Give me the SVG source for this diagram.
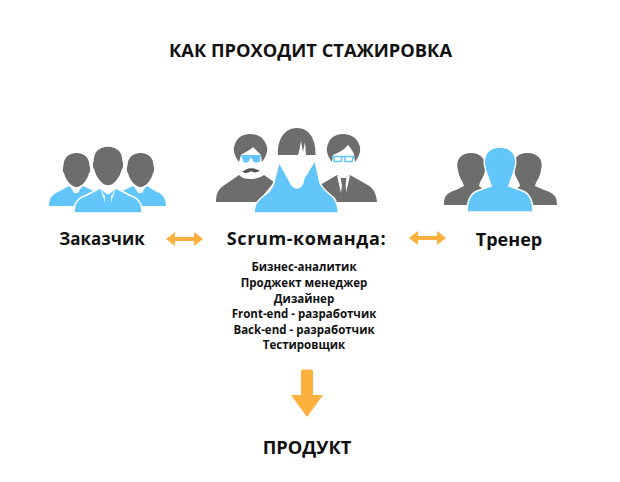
<svg xmlns="http://www.w3.org/2000/svg" width="620" height="482" viewBox="0 0 620 482">
<style>
text{font-family:"Open Sans","Liberation Sans",sans-serif;font-weight:700;fill:#111;text-anchor:middle}
.t{font-size:18.300px}.n{font-size:17px}.l{font-size:11.500px}
.g{fill:#6d6d6d}.b{fill:#62c6fb}.w{fill:#fff}.o{fill:#fdb03e}
.s{stroke:#fff;stroke-width:1.500}
</style>
<defs>
<path id="head" d="M0-17C8-17 13-12 13-4C14-3 14 2 12.500 3C11 10 5 17 0 17C-5 17-11 10-12.500 3C-14 2-14-3-13-4C-13-12-8-17 0-17Z"/>
</defs>
<rect width="620" height="482" fill="#fff"/>
<text class="t" x="310.500" y="57">КАК ПРОХОДИТ СТАЖИРОВКА</text>

<g id="customer">
<path class="b" d="M49 206C49 197 53 194 60 191L69 186L76 192L83 186L96 192L90 206Z"/>
<path class="b" d="M166 206C166 197 162 194 155 191L147 186L140 192L133 186L120 192L126 206Z"/>
<path class="w" d="M70 186L74 193H78L82 186Z"/>
<path class="b" d="M73.500 193H78.500L76 203Z"/>
<path class="w" d="M134 186L138 193H142L146 186Z"/>
<path class="b" d="M137.500 193H142.500L140 203Z"/>
<use href="#head" class="g" x="76.500" y="170"/>
<use href="#head" class="g" x="140.500" y="170"/>
<path class="b s" d="M74 213C74 202 78 198 87 195L100 188L108 194L116 188L129 195C138 198 142 202 142 213Z"/>
<path class="w" d="M100 188L104 195H112L116 188L110 205H106Z"/>
<path class="b" d="M104.500 194.500H111.500L110.500 208L108 212L105.500 208Z"/>
<use href="#head" class="g s" transform="translate(108 166) scale(1.170 1.190)"/>
</g>

<g id="scrum-team">
<path class="g" d="M216 202C216 191 220 188 226 184L239 175C242 178 246 179 250 179C255 179 260 178 264 175L274 182L258 202Z"/>
<path class="g" d="M377 202C376 192 373 188 366 184L350 175L343 178L337 175L320 185L336 202Z"/>
<path class="w" d="M337 175L343 178L350 175L345 198H342Z"/>
<path class="g" d="M340.500 178H346.500L345.500 186L347 195L343.500 200L340.500 195L342 186Z"/>
<path class="g" d="M239 162C236 158 233 153 234 147C236 139 241 134 250 134C259 134 265 139 267 147C268 153 265 158 262 162L261 155C258 152 255 149 253 147C249 151 243 153 241 155Z"/>
<path class="g" d="M332 162C329 158 326 153 327 147C329 139 334 134 343 134C352 134 358 139 360 147C361 153 358 158 355 162L354 154C352 150 350 147 348 145C344 150 338 153 333 155Z"/>
<path class="b" d="M241 155H261L260 161C258 163 254 163 253 161L251.500 158H250.500L249 161C248 163 244 163 243 161Z"/>
<path d="M242 171C245 171 248 167 251 168.500C254 167 257 171 260 170C258 173 253 173 251 171C249 173 244 174 242 171Z" fill="#555"/>
<path fill="none" stroke="#62c6fb" stroke-width="1.500" d="M332 156.500H354M333 156.500H341.500V161.500H334.500ZM345 156.500H353.500L352 161.500H345Z"/>
<path class="b s" d="M254 213C254 206 256 202 262 197C268 193 272 190 274 182L279 162L289 180C291 184 293 188 297 188C301 188 303 185 304 178L315 160L320 183C324 191 329 193 334 198C337 202 338 206 338.500 213Z"/>
<path class="g" d="M278 155C277 139 285 128 297 128C309 128 316 139 315.500 155H306L305 142L303 152L301 141L299 152L298 155Z"/>
</g>

<g id="trainer">
<path class="g" d="M458 170C455 160 461 153 471 153C481 153 487 160 485 170C484 178 480 180 479 186L487 192L482 205H444C444 195 447 193 456 190L464 186C463 181 459 178 458 170Z"/>
<path class="g" d="M541 170C544 160 538 153 527 153C517 153 512 160 514 170C515 178 519 180 520 186L512 192L517 205H557C557 195 553 193 544 190L535 186C536 181 540 178 541 170Z"/>
<path class="b s" d="M484.500 165C483 153 490 147 500 147C510 147 517 153 515.500 165C514 175 511 178 509 186L523 191C530 194 533 202 533 212H467C467 202 470 194 477 191L491 186C489 178 486 175 484.500 165Z"/>
</g>

<text class="n" x="102" y="245">Заказчик</text>
<text class="n" x="306.500" y="245" style="font-size:18px;letter-spacing:.6px">Scrum-команда:</text>
<text class="n" x="509" y="246" style="font-size:18px">Тренер</text>
<g id="roles">
<text class="l" x="304" y="271">Бизнес-аналитик</text>
<text class="l" x="304" y="287">Проджект менеджер</text>
<text class="l" x="304" y="303">Дизайнер</text>
<text class="l" x="304" y="318">Front-end - разработчик</text>
<text class="l" x="304" y="334">Back-end - разработчик</text>
<text class="l" x="304" y="349">Тестировщик</text>
</g>
<text class="t" x="307" y="454">ПРОДУКТ</text>

<g id="connectors">
<path class="o" d="M166 239L175 232V237H194V232L203 239L194 246V241H175V246Z"/>
<path class="o" d="M409 238L418 231V236H437V231L446 238L437 245V240H418V245Z"/>
<path class="o" d="M301 371Q301 369.500 303 369.500H311Q313 369.500 313 371V395H323L307 417L291 395H301Z"/>
</g>
</svg>
